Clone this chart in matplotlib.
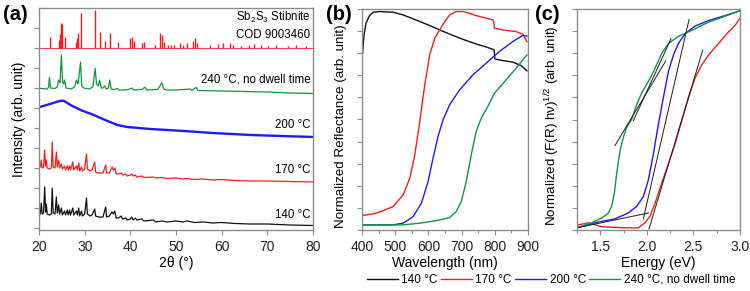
import matplotlib
matplotlib.use('Agg')
import matplotlib.pyplot as plt
from matplotlib.ticker import MultipleLocator

plt.rcParams['font.family'] = ['Liberation Sans', 'DejaVu Sans']
plt.rcParams['axes.unicode_minus'] = False

# ---------- (a) XRD ----------
tt_140 = [20.0, 20.3, 20.5, 20.7, 21.0, 21.24, 21.45, 21.6, 21.8, 22.3, 22.7, 22.9, 23.1, 23.5, 23.8,
          24.0, 24.3, 24.5, 24.9, 25.1, 25.6, 25.8, 26.2, 26.4, 26.7, 26.9, 27.4, 27.6, 28.2, 28.4,
          28.7, 28.9, 29.3, 29.5, 30.0, 30.4, 30.6, 31.2, 31.6, 32.2, 32.4, 33.0, 34.0, 34.6, 34.8,
          35.4, 36.0, 36.3, 36.6, 36.9, 37.4, 38.0, 38.3, 39.0, 39.3, 40.0, 40.3, 40.6, 41.1, 41.4,
          42.5, 43.0, 45.1, 45.5, 47.0, 48.0, 50.0, 51.5, 52.5, 54.0, 56.0, 58.0, 60.0, 63.0, 66.0,
          70.0, 75.0, 80.0]
i_140 = [15, 16, 27, 16, 17, 43, 18, 26, 16, 15, 16, 42, 17, 16, 33,
         17, 25, 16, 22, 15, 19, 15, 20, 15, 20, 15, 22, 15, 19, 15,
         22, 14, 19, 14, 16, 32, 16, 14, 15, 21, 14, 13, 13, 23, 13,
         14, 18, 16, 19, 12, 12, 14, 11, 12, 10, 11, 13, 10, 12, 10,
         11, 9, 10, 8, 9, 8, 9, 8, 9, 7.5, 8, 7, 7.5, 6.5, 6,
         6, 5, 4.5]
i_170 = [62, 63, 70, 62, 63, 80, 64, 70, 62, 61, 62, 88, 63, 62, 78,
         63, 70, 62, 66, 61, 64, 60, 64, 60, 64, 60, 68, 60, 64, 60,
         67, 59, 63, 59, 61, 76, 61, 59, 60, 68, 58, 57, 57, 65, 57,
         57, 63, 60, 62, 56, 56, 57, 55, 56, 54, 55, 56, 54, 55, 53,
         54, 52.5, 53, 52, 52.5, 51.5, 52, 51, 51.5, 50.5, 51, 50, 50.5, 49.5, 49,
         49, 48.5, 48]

tt_200 = [20.0, 22.4, 24.5, 25.4, 26.9, 29.1, 32.0, 35.0, 37.2, 39.3, 44.4, 51.8, 58.0, 66.5, 73.0, 80.0]
i_200 = [122.7, 126, 129, 129.3, 125, 120, 115, 109, 105, 103, 101, 99, 97, 95, 94, 93]

tt_240 = [20.0, 21.8, 22.1, 22.3, 22.5, 23.5, 24.0, 24.3, 24.6, 24.9, 25.15, 25.4, 25.6, 25.9, 27.0,
          27.8, 28.2, 28.5, 28.6, 29.1, 29.35, 29.8, 31.0, 31.8, 32.3, 32.6, 33.0, 33.3, 33.6, 34.0,
          34.4, 34.7, 35.2, 35.5, 35.8, 36.5, 37.2, 37.5, 39.0, 39.9, 40.3, 40.7, 42.5, 43.2, 43.6,
          46.0, 46.6, 46.9, 47.3, 48.0, 50.0, 53.1, 53.5, 54.4, 54.8, 60.0, 65.0, 70.0, 75.0, 80.0]
i_240 = [141.7, 141, 143, 152.7, 142, 141.5, 143, 150, 147, 175, 148, 146, 150, 142, 141,
         143, 150, 146, 148, 168, 144, 142, 141, 143, 161.7, 146, 144, 150, 142, 142,
         144, 141, 142, 150, 141, 140.5, 141.5, 140, 140, 141, 142, 140, 140.5, 142.7, 140,
         140.5, 145, 147.3, 141, 140, 140, 141, 139.5, 142.7, 139.5, 139, 138.5, 138, 137, 136.5]

# reference pattern (COD 9003460)
ref_base = 182.3
ref_pos = [22.3, 24.3, 24.5, 24.9, 25.0, 25.6, 28.0, 28.4, 28.6, 29.3, 32.3, 33.4, 34.4, 35.5, 37.2,
           39.9, 40.4, 40.8, 42.5, 43.0, 45.4, 46.6, 47.0, 47.4, 48.3, 49.0, 49.6, 50.9, 51.5, 52.5,
           53.8, 54.2, 54.5, 57.4, 59.1, 60.4, 61.8, 62.5, 64.3, 65.9, 67.1, 68.7, 70.2, 72.0, 74.5,
           76.3, 78.4]
ref_top = [192.7, 190, 196, 207.3, 206, 192.7, 188.3, 191.7, 196.7, 217.3, 220, 198.3, 189.3, 196.7, 188.3,
           191.7, 192.7, 189.3, 187.3, 188.3, 185, 197.3, 195, 188.3, 185.5, 185, 185.5, 186.7, 185, 187.3,
           189.3, 191.7, 187.3, 185, 186, 186.7, 187.3, 185, 184.5, 185.5, 186, 185, 184.5, 185, 184.5,
           185, 184.5]

# ---------- (b) reflectance ----------
wl_140 = [402, 406, 412, 422, 434, 454, 474, 494, 524, 554, 594, 634, 674, 714, 744, 774, 794, 798, 800,
          814, 854, 879, 897]
r_140 = [0.805, 0.891, 0.945, 0.980, 0.997, 1.0, 0.998, 0.997, 0.984, 0.966, 0.941, 0.914, 0.888, 0.864,
         0.848, 0.834, 0.823, 0.820, 0.778, 0.773, 0.763, 0.747, 0.722]
wl_170 = [402, 444, 494, 524, 544, 559, 574, 589, 604, 619, 634, 649, 664, 684, 704, 724, 744, 764, 794,
          797, 799, 824, 864, 884, 897]
r_170 = [0.044, 0.055, 0.086, 0.141, 0.219, 0.328, 0.484, 0.656, 0.797, 0.875, 0.914, 0.953, 0.984, 1.0,
         1.0, 0.992, 0.981, 0.973, 0.961, 0.950, 0.922, 0.914, 0.906, 0.894, 0.859]
wl_200 = [402, 494, 524, 554, 579, 599, 614, 629, 644, 664, 694, 734, 774, 814, 854, 884, 897]
r_200 = [0.0, 0.0, 0.008, 0.039, 0.102, 0.203, 0.313, 0.414, 0.492, 0.563, 0.633, 0.703, 0.758, 0.813,
         0.859, 0.888, 0.885]
wl_240 = [402, 524, 574, 624, 664, 684, 699, 714, 729, 744, 759, 779, 794, 799, 834, 864, 897]
r_240 = [0.0, 0.0, 0.008, 0.020, 0.034, 0.063, 0.109, 0.203, 0.328, 0.438, 0.5, 0.555, 0.602, 0.617,
         0.680, 0.734, 0.797]

# ---------- (c) Kubelka-Munk ----------
e_170 = [1.25, 1.372, 1.515, 1.766, 1.909, 1.98, 2.034, 2.088, 2.159, 2.231, 2.303, 2.374, 2.446, 2.517,
         2.589, 2.661, 2.768, 2.876, 2.947, 3.0]
k_170 = [0.012, 0.023, 0.005, 0.0, 0.0, 0.023, 0.053, 0.113, 0.203, 0.293, 0.383, 0.489, 0.594, 0.684,
         0.744, 0.789, 0.842, 0.895, 0.925, 0.958]
e_200 = [1.25, 1.443, 1.658, 1.801, 1.891, 1.962, 2.016, 2.07, 2.124, 2.177, 2.231, 2.285, 2.338, 2.41,
         2.517, 2.661, 2.84, 3.0]
k_200 = [0.0, 0.023, 0.041, 0.068, 0.098, 0.143, 0.218, 0.338, 0.474, 0.594, 0.714, 0.789, 0.842, 0.887,
         0.922, 0.947, 0.970, 0.992]
e_240 = [1.25, 1.408, 1.515, 1.587, 1.622, 1.651, 1.676, 1.712, 1.748, 1.783, 1.837, 1.891, 1.945, 2.016,
         2.088, 2.159, 2.231, 2.338, 2.482, 2.661, 2.84, 3.0]
k_240 = [0.0, 0.023, 0.045, 0.068, 0.098, 0.158, 0.248, 0.353, 0.414, 0.459, 0.496, 0.564, 0.617, 0.669,
         0.729, 0.797, 0.842, 0.875, 0.902, 0.940, 0.967, 0.992]

# tangent lines (x0, x1), (y0, y1)
tangents = [
    ([1.658, 2.202], [0.376, 0.762]),
    ([1.855, 2.26], [0.489, 0.865]),
    ([1.962, 2.453], [0.041, 0.952]),
    ([2.023, 2.60], [-0.005, 0.812]),
    ([1.25, 2.02], [0.0, 0.068]),
]

labels = ['140 °C', '170 °C', '200 °C', '240 °C, no dwell time']
c_black, c_red, c_blue, c_green = '#111111', '#ff1a1a', '#1a1aff', '#0a9a3c'
spine_c = '#8c8c8c'

fig = plt.figure(figsize=(7.5, 2.91), dpi=100)
ax_a = fig.add_axes([39 / 750, 61 / 291, 274 / 750, 222 / 291])
ax_b = fig.add_axes([362 / 750, 61 / 291, 166 / 750, 221 / 291])
ax_c = fig.add_axes([577 / 750, 61 / 291, 163 / 750, 221 / 291])

for ax in (ax_a, ax_b, ax_c):
    for s in ax.spines.values():
        s.set_color(spine_c)
        s.set_linewidth(1.0)
    ax.tick_params(axis='both', which='both', direction='out', color=spine_c, labelsize=10,
                   labelcolor='#222222', width=0.8)
    ax.tick_params(axis='both', which='major', length=3.5)
    ax.tick_params(axis='both', which='minor', length=2.5)
    ax.tick_params(axis='y', labelleft=False)

# (a)
ax_a.plot(tt_140, i_140, color=c_black, lw=0.9)
ax_a.plot(tt_140, i_170, color=c_red, lw=0.9)
ax_a.plot(tt_200, i_200, color=c_blue, lw=1.7)
ax_a.plot(tt_240, i_240, color=c_green, lw=0.9)
ax_a.plot([20, 80], [ref_base, ref_base], color=c_red, lw=0.6)
ax_a.vlines(ref_pos, ref_base, ref_top, color=c_red, lw=1.0)
ax_a.set_xlim(20, 80)
ax_a.set_ylim(0, 222)
ax_a.set_xticks(range(20, 81, 10))
ax_a.set_yticks([2 + 20 * k for k in range(11)])
ax_a.set_xlabel('2\u03b8 (°)', fontsize=10, labelpad=2)
ax_a.set_ylabel('Intensity (arb. unit)', fontsize=10, labelpad=6)
tx = 79.4
fs = 8.3
ax_a.text(tx, 213, r'Sb$_\mathregular{2}$S$_\mathregular{3}$ Stibnite', ha='right', va='center', fontsize=fs)
ax_a.text(tx, 195, 'COD 9003460', ha='right', va='center', fontsize=fs)
ax_a.text(tx, 151, '240 °C, no dwell time', ha='right', va='center', fontsize=fs)
ax_a.text(tx, 105, '200 °C', ha='right', va='center', fontsize=fs)
ax_a.text(tx, 60, '170 °C', ha='right', va='center', fontsize=fs)
ax_a.text(tx, 15, '140 °C', ha='right', va='center', fontsize=fs)

# (b)
lines = []
lines += ax_b.plot(wl_140, r_140, color=c_black, lw=1.0)
lines += ax_b.plot(wl_170, r_170, color=c_red, lw=1.0)
lines += ax_b.plot(wl_200, r_200, color=c_blue, lw=1.0)
lines += ax_b.plot(wl_240, r_240, color=c_green, lw=1.0)
ax_b.set_xlim(400, 900)
ax_b.set_ylim(-0.024, 1.012)
ax_b.set_xticks(range(400, 901, 100))
ax_b.xaxis.set_minor_locator(MultipleLocator(50))
ax_b.set_yticks([-0.024 + 1.036 * k / 10 for k in range(11)])
ax_b.set_xlabel('Wavelength (nm)', fontsize=10, labelpad=2)
ax_b.set_ylabel('Normalized Reflectance (arb. unit)', fontsize=9.6, labelpad=5)
ax_b.yaxis.set_label_coords(-0.09, 0.47)

# (c)
ax_c.plot(e_170, k_170, color=c_red, lw=1.0)
ax_c.plot(e_200, k_200, color=c_blue, lw=1.0)
ax_c.plot(e_240, k_240, color=c_green, lw=1.0)
for xs, ys in tangents:
    ax_c.plot(xs, ys, color='#1a1a1a', lw=0.7)
ax_c.set_xlim(1.25, 3.0)
ax_c.set_ylim(-0.01, 1.0)
ax_c.set_xticks([1.5, 2.0, 2.5, 3.0])
ax_c.xaxis.set_minor_locator(MultipleLocator(0.25))
ax_c.set_yticks([-0.01 + 1.01 * k / 10 for k in range(11)])
ax_c.set_xlabel('Energy (eV)', fontsize=10, labelpad=2)
ax_c.set_ylabel('Normalized (F(R) h\u03bd)$^\\mathregular{1/2}$ (arb. unit)', fontsize=9.6, labelpad=5)
ax_c.yaxis.set_label_coords(-0.09, 0.47)

# panel letters
fig.text(3 / 750, 1 - 15 / 291, '(a)', fontsize=14.5, fontweight='bold', va='center', ha='left')
fig.text(326 / 750, 1 - 15 / 291, '(b)', fontsize=14.5, fontweight='bold', va='center', ha='left')
fig.text(535 / 750, 1 - 15 / 291, '(c)', fontsize=14.5, fontweight='bold', va='center', ha='left')

fig.legend(lines, labels, loc='center', bbox_to_anchor=(551 / 750, 1 - 280 / 291), ncol=4,
           frameon=False, fontsize=8.5, handlelength=2.6, handletextpad=0.3, columnspacing=0.3)

fig.savefig('out.png', dpi=100)
